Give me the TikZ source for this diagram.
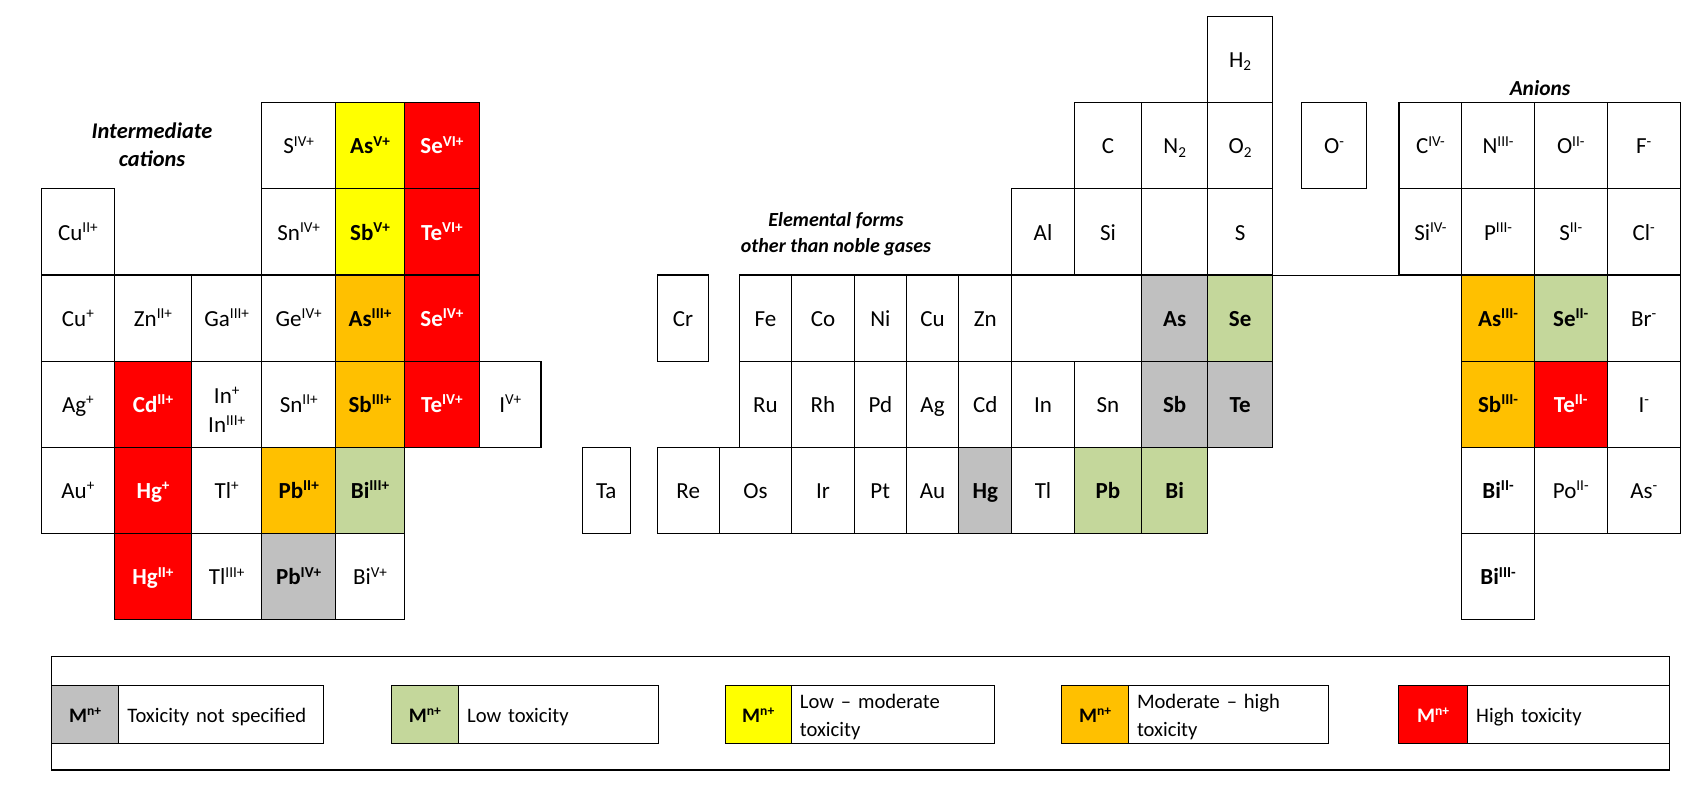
\documentclass[tikz,border=0pt]{standalone}
\usepackage{fontspec}
\setmainfont{Carlito}
\definecolor{tgrey}{HTML}{C0C0C0}
\definecolor{tgreen}{HTML}{C4D79B}
\definecolor{tyellow}{HTML}{FFFF00}
\definecolor{torange}{HTML}{FFC000}
\definecolor{tred}{HTML}{FF0000}
\newcommand{\sups}[1]{\raisebox{0.34em}{\scalebox{0.66}{#1}}}
\newcommand{\subs}[1]{\raisebox{-0.14em}{\scalebox{0.66}{#1}}}
\newcommand{\cellfont}{\fontsize{11.5}{14.6}\selectfont}
\newcommand{\legfont}{\fontsize{10.3}{14.35}\selectfont}
\newcommand{\headfont}[2]{\fontsize{#1}{#2}\selectfont\bfseries\itshape}

\begin{document}
\begin{tikzpicture}
  [x=0.5pt,y=-0.5pt,
   cell/.style={draw,line width=0.6pt,inner sep=0pt,minimum height=43.1pt,
                text height=8.3pt,text depth=0pt,font=\cellfont},
   tox/.style={#1},
   nofill/.style={},
   boldcell/.style={font=\cellfont\bfseries},
   unspec/.style={fill=tgrey,font=\cellfont\bfseries},
   low/.style={fill=tgreen,font=\cellfont\bfseries},
   lowmod/.style={fill=tyellow,font=\cellfont\bfseries},
   modhigh/.style={fill=torange,font=\cellfont\bfseries},
   high/.style={fill=tred,text=white,font=\cellfont\bfseries},
   twolines/.style={align=center,text height=28.7pt,text depth=0pt},
   heading/.style={align=center},
   legtext/.style={draw,line width=0.6pt,inner ysep=0pt,inner xsep=4.3pt,
                   minimum height=29.1pt,align=left,text height=8.1pt,
                   text depth=0pt,font=\legfont},
   legtwo/.style={text depth=14.3pt}]
  \useasboundingbox (0,0) rectangle (1701,803);

  % intermediate cations
  \foreach \nm/\rw/\xa/\xb/\st/\tx in {
      CuIIp/2/41.5/114.3/nofill/{Cu\sups{II+}},
      Cup/3/41.5/114.3/nofill/{Cu\sups{+}},
      ZnIIp/3/114.3/191.7/nofill/{Zn\sups{II+}},
      GaIIIp/3/191.7/261.7/nofill/{Ga\sups{III+}},
      Agp/4/41.5/114.3/nofill/{Ag\sups{+}},
      CdIIp/4/114.3/191.7/high/{Cd\sups{II+}},
      InIp/4/191.7/261.7/twolines/{In\sups{+}\\In\sups{III+}},
      Aup/5/41.5/114.3/nofill/{Au\sups{+}},
      HgIp/5/114.3/191.7/high/{Hg\sups{+}},
      TlIp/5/191.7/261.7/nofill/{Tl\sups{+}},
      HgIIp/6/114.3/191.7/high/{Hg\sups{II+}},
      TlIIIp/6/191.7/261.7/nofill/{Tl\sups{III+}},
      SIVp/1/261.7/335.7/nofill/{S\sups{IV+}},
      SnIVp/2/261.7/335.7/nofill/{Sn\sups{IV+}},
      GeIVp/3/261.7/335.7/nofill/{Ge\sups{IV+}},
      SnIIp/4/261.7/335.7/nofill/{Sn\sups{II+}},
      PbIIp/5/261.7/335.7/modhigh/{Pb\sups{II+}},
      PbIVp/6/261.7/335.7/unspec/{Pb\sups{IV+}},
      AsVp/1/335.7/404.3/lowmod/{As\sups{V+}},
      SbVp/2/335.7/404.3/lowmod/{Sb\sups{V+}},
      AsIIIp/3/335.7/404.3/modhigh/{As\sups{III+}},
      SbIIIp/4/335.7/404.3/modhigh/{Sb\sups{III+}},
      BiIIIp/5/335.7/404.3/low/{Bi\sups{III+}},
      BiVp/6/335.7/404.3/nofill/{Bi\sups{V+}},
      SeVIp/1/404.3/479.5/high/{Se\sups{VI+}},
      TeVIp/2/404.3/479.5/high/{Te\sups{VI+}},
      SeIVp/3/404.3/479.5/high/{Se\sups{IV+}},
      TeIVp/4/404.3/479.5/high/{Te\sups{IV+}},
      IVp/4/479.5/541/nofill/{I\sups{V+}}}
    \node[cell,tox/.expanded=\st,minimum width={(\xb-\xa)*0.5pt}]
      (\nm) at ({(\xa+\xb)/2},{59.4+86.2*\rw}) {\tx};

  % elemental forms
  \foreach \nm/\rw/\xa/\xb/\st/\tx in {
      H2/0/1207.7/1272.5/nofill/{H\subs{2}},
      C/1/1074.3/1141.7/nofill/C, N2/1/1141.7/1207.7/nofill/{N\subs{2}},
      O2/1/1207.7/1272.5/nofill/{O\subs{2}},
      Al/2/1011.7/1074.3/nofill/Al, Si/2/1074.3/1141.7/nofill/Si,
      gapA/2/1141.7/1207.7/nofill/{}, S/2/1207.7/1272.5/nofill/S,
      Cr/3/657.3/708.7/nofill/Cr, Fe/3/739.3/791.7/nofill/Fe,
      Co/3/791.7/854.3/nofill/Co, Ni/3/854.3/906.3/nofill/Ni,
      Cu/3/906.3/958.7/nofill/Cu, Zn/3/958.7/1011.7/nofill/Zn,
      gapB/3/1011.7/1141.7/nofill/{}, As/3/1141.7/1207.7/unspec/As,
      Se/3/1207.7/1272.5/low/Se,
      Ru/4/739.3/791.7/nofill/Ru, Rh/4/791.7/854.3/nofill/Rh,
      Pd/4/854.3/906.3/nofill/Pd, Ag/4/906.3/958.7/nofill/Ag,
      Cd/4/958.7/1011.7/nofill/Cd, In/4/1011.7/1074.3/nofill/In,
      Sn/4/1074.3/1141.7/nofill/Sn, Sb/4/1141.7/1207.7/unspec/Sb,
      Te/4/1207.7/1272.5/unspec/Te,
      Ta/5/582.1/630.4/nofill/Ta, Re/5/657.3/719.2/nofill/Re,
      Os/5/719.2/791.7/nofill/Os, Ir/5/791.7/854.3/nofill/Ir,
      Pt/5/854.3/906.3/nofill/Pt, Au/5/906.3/958.7/nofill/Au,
      Hg/5/958.7/1011.7/unspec/Hg, Tl/5/1011.7/1074.3/nofill/Tl,
      Pb/5/1074.3/1141.7/low/Pb, Bi/5/1141.7/1207.7/low/Bi}
    \node[cell,tox/.expanded=\st,minimum width={(\xb-\xa)*0.5pt}]
      (\nm) at ({(\xa+\xb)/2},{59.4+86.2*\rw}) {\tx};

  % anions
  \foreach \nm/\rw/\xa/\xb/\st/\tx in {
      Om/1/1301.3/1366.7/nofill/{O\sups{-}},
      CIVm/1/1399/1461.7/nofill/{C\sups{IV-}},
      NIIIm/1/1461.7/1534.4/nofill/{N\sups{III-}},
      OIIm/1/1534.4/1607.1/nofill/{O\sups{II-}},
      Fm/1/1607.1/1680.4/nofill/{F\sups{-}},
      SiIVm/2/1399/1461.7/nofill/{Si\sups{IV-}},
      PIIIm/2/1461.7/1534.4/nofill/{P\sups{III-}},
      SIIm/2/1534.4/1607.1/nofill/{S\sups{II-}},
      Clm/2/1607.1/1680.4/nofill/{Cl\sups{-}},
      AsIIIm/3/1461.7/1534.4/modhigh/{As\sups{III-}},
      SeIIm/3/1534.4/1607.1/low/{Se\sups{II-}},
      Brm/3/1607.1/1680.4/nofill/{Br\sups{-}},
      SbIIIm/4/1461.7/1534.4/modhigh/{Sb\sups{III-}},
      TeIIm/4/1534.4/1607.1/high/{Te\sups{II-}},
      Im/4/1607.1/1680.4/nofill/{I\sups{-}},
      BiIIm/5/1461.7/1534.4/boldcell/{Bi\sups{II-}},
      PoIIm/5/1534.4/1607.1/nofill/{Po\sups{II-}},
      Asm/5/1607.1/1680.4/nofill/{As\sups{-}},
      BiIIIm/6/1461.7/1534.4/boldcell/{Bi\sups{III-}}}
    \node[cell,tox/.expanded=\st,minimum width={(\xb-\xa)*0.5pt}]
      (\nm) at ({(\xa+\xb)/2},{59.4+86.2*\rw}) {\tx};

  \draw[line width=0.6pt] (S.south east) -- (SiIVm.south west);

  % group titles
  \node[heading,font=\headfont{11.2}{13.85}] (cations) at (152,144.6)
    {Intermediate\\cations};
  \node[heading,font=\headfont{10}{13}] (elemental) at (836,233.8)
    {Elemental forms\\other than noble gases};
  \node[heading,font=\headfont{10.7}{13},anchor=base] (anions) at (1540,95)
    {Anions};

  % legend
  \node[draw,line width=0.6pt,inner sep=0pt,minimum width=808.9pt,
        minimum height=56.65pt] (legendbox) at (860.6,713.35) {};
  \foreach \xa/\xb/\xc/\st/\ls/\lbl [count=\i] in {
      51.7/118.7/323.5/unspec/nofill/{Toxicity not specified},
      391.3/458.5/658.5/low/nofill/{Low toxicity},
      725.2/791.3/994.4/lowmod/legtwo/{Low -- moderate\\toxicity},
      1061.7/1128.4/1328.7/modhigh/legtwo/{Moderate -- high\\toxicity},
      1398.7/1467.6/1669.5/high/nofill/{High toxicity}}
  {
    \node[cell,tox/.expanded=\st,font=\legfont\bfseries,minimum height=29.1pt,
          text height=8.1pt,minimum width={(\xb-\xa)*0.5pt}]
      (sw\i) at ({(\xa+\xb)/2},714.2) {M\sups{n+}};
    \node[legtext,tox/.expanded=\ls,minimum width={(\xc-\xb)*0.5pt},
          text width={(\xc-\xb)*0.5pt-8.6pt}]
      (lg\i) at ({(\xb+\xc)/2},714.2) {\lbl};
  }
\end{tikzpicture}
\end{document}
